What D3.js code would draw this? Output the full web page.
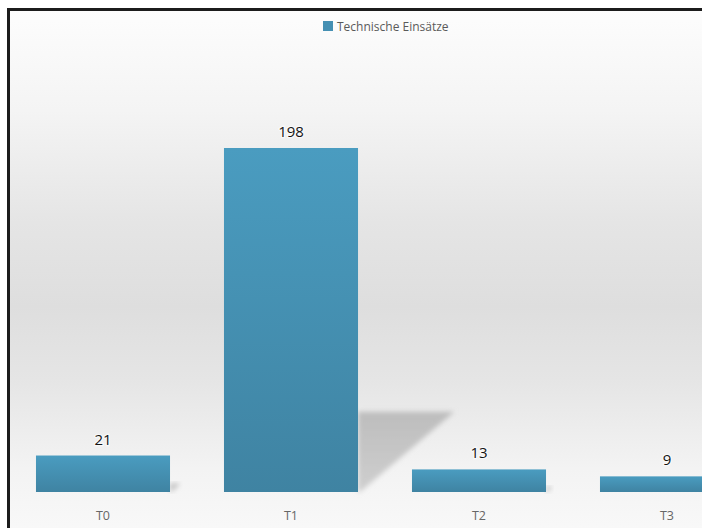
<!DOCTYPE html>
<html>
<head>
<meta charset="utf-8">
<script src="https://cdn.jsdelivr.net/npm/d3@7"></script>
<style>
  html, body { margin: 0; padding: 0; background: #ffffff; }
  svg { display: block; }
</style>
</head>
<body>
<svg id="chart" width="702" height="528"></svg>
<script>
// Einsätze nach Kategorie
const categories = ["T0", "T1", "T2", "T3"];
const values = [21, 198, 13, 9];
const seriesName = "Technische Einsätze";

const W = 702, H = 528;
const svg = d3.select("#chart");
const defs = svg.append("defs");

// background gradient of the chart area
const bg = defs.append("linearGradient").attr("id", "bgGrad")
  .attr("x1", 0).attr("y1", 0).attr("x2", 0).attr("y2", 1);
[[0, "#fdfdfd"], [0.18, "#f4f4f4"], [0.38, "#e5e5e5"], [0.53, "#dedede"],
 [0.66, "#e5e5e5"], [0.82, "#f3f3f3"], [1, "#fcfcfc"]]
  .forEach(([o, c]) => bg.append("stop").attr("offset", o).attr("stop-color", c));

// bar fill: lighter at top, darker at the base
const barGrad = defs.append("linearGradient").attr("id", "barGrad")
  .attr("x1", 0).attr("y1", 0).attr("x2", 0).attr("y2", 1);
barGrad.append("stop").attr("offset", 0).attr("stop-color", "#4a9cc0");
barGrad.append("stop").attr("offset", 1).attr("stop-color", "#3f83a2");

const shadowGrad = defs.append("linearGradient").attr("id", "shadowGrad")
  .attr("x1", 0).attr("y1", 0).attr("x2", 0).attr("y2", 1);
shadowGrad.append("stop").attr("offset", 0).attr("stop-color", "#bdbdbd");
shadowGrad.append("stop").attr("offset", 1).attr("stop-color", "#cfcfcf");

defs.append("filter").attr("id", "blur")
  .attr("x", "-20%").attr("y", "-20%").attr("width", "140%").attr("height", "140%")
  .append("feGaussianBlur").attr("stdDeviation", 2.5);

// chart area frame (runs past the right and bottom edges)
svg.append("rect")
  .attr("x", 8.5).attr("y", 9.5).attr("width", 760).attr("height", 560)
  .attr("fill", "url(#bgGrad)");
svg.append("rect")
  .attr("x", 8.5).attr("y", 9.5).attr("width", 760).attr("height", 560)
  .attr("fill", "none").attr("stroke", "#1c1c1c").attr("stroke-width", 3);

const baseY = 492;
const x = d3.scaleBand().domain(categories).range([9, 761])
  .paddingInner(0.287).paddingOuter(0.1435);
const y = d3.scaleLinear().domain([0, 220]).range([baseY, baseY - 220 * 1.7374]);

const data = categories.map((c, i) => ({ cat: c, val: values[i] }));

// perspective shadows cast to the right of each bar
svg.append("g").selectAll("path").data(data).join("path")
  .attr("d", d => {
    const r = x(d.cat) + x.bandwidth();
    const h = baseY - y(d.val);
    const top = baseY - h * 0.233;
    return `M${r},${top}L${r + h * 0.28},${top}L${r + 2},${baseY}L${r},${baseY}Z`;
  })
  .attr("fill", "url(#shadowGrad)")
  .attr("filter", "url(#blur)");

// bars
svg.append("g").selectAll("rect").data(data).join("rect")
  .attr("x", d => x(d.cat))
  .attr("y", d => y(d.val))
  .attr("width", x.bandwidth())
  .attr("height", d => baseY - y(d.val))
  .attr("fill", "url(#barGrad)");

// value labels
svg.append("g").selectAll("text").data(data).join("text")
  .attr("x", d => x(d.cat) + x.bandwidth() / 2)
  .attr("y", d => y(d.val) - 11)
  .attr("text-anchor", "middle")
  .attr("font-family", "'Open Sans', sans-serif")
  .attr("font-size", 15)
  .attr("fill", "#141414")
  .attr("stroke", "#ffffff").attr("stroke-width", 2.5).attr("stroke-opacity", 0.6)
  .attr("paint-order", "stroke")
  .text(d => d.val);

// category axis (labels only)
const xAxis = d3.axisBottom(x).tickSize(0).tickPadding(0);
const ax = svg.append("g").attr("transform", `translate(0,${baseY + 19})`).call(xAxis);
ax.select(".domain").remove();
ax.selectAll("text")
  .attr("font-family", "'Open Sans', sans-serif")
  .attr("font-size", 12.5)
  .attr("fill", "#666666");

// legend
const lg = svg.append("g").attr("transform", "translate(323,21)");
lg.append("rect").attr("width", 10).attr("height", 10).attr("fill", "#4590b3");
lg.append("text").attr("x", 14).attr("y", 9.5)
  .attr("font-family", "'Open Sans', sans-serif")
  .attr("font-size", 12)
  .attr("fill", "#5a5a5a")
  .text(seriesName);
</script>
</body>
</html>
